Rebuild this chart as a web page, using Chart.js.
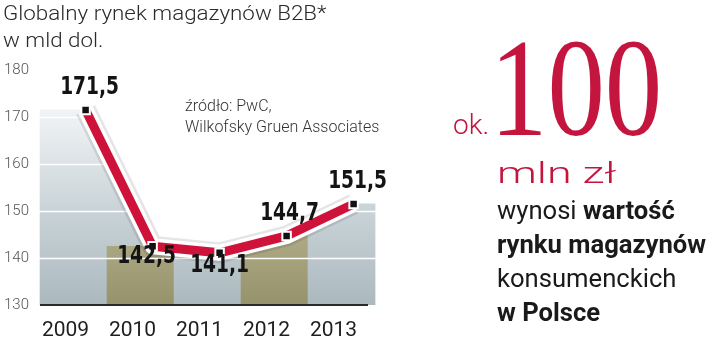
<!DOCTYPE html>
<html><head><meta charset="utf-8">
<script src="https://cdn.jsdelivr.net/npm/chart.js@4.4.0/dist/chart.umd.min.js"></script>
<style>
html,body{margin:0;padding:0;background:#fff;width:720px;height:356px;overflow:hidden;}
#wrap{position:relative;width:720px;height:356px;}
#c{position:absolute;left:0;top:0;}
.t{position:absolute;white-space:nowrap;}
</style></head><body>
<div id="wrap">
<canvas id="c" width="720" height="356"></canvas>
<div class="t" style="left:3px;top:0px;font:300 21px Roboto;color:#2a2a2a;line-height:27px;transform:scaleX(1.065);transform-origin:0 0;">Globalny rynek magazynów B2B*<br>w mld dol.</div>
<div class="t" style="left:185px;top:95px;font:300 16px Roboto;color:#333;line-height:21px;">źródło: PwC,<br>Wilkofsky Gruen Associates</div>
<div class="t" style="left:453px;top:111px;font:300 28px Roboto;color:#c4153f;line-height:1;">ok.</div>
<div class="t" style="left:490px;top:18px;font:400 140px 'Liberation Serif';color:#c4153f;line-height:1;transform:scaleX(0.82);transform-origin:0 0;">100</div>
<div class="t" style="left:497px;top:159px;font:300 29px Roboto;color:#c4153f;line-height:1;transform:scaleX(1.55);transform-origin:0 0;">mln zł</div>
<div class="t" style="left:497px;top:194px;font:400 25px Roboto;color:#1a1a1a;line-height:34px;transform:scaleX(1.025);transform-origin:0 0;">wynosi <b>wartość</b><br><b>rynku magazynów</b><br>konsumenckich<br><b>w Polsce</b></div>
</div>
<script>
const categories = ['2009', '2010', '2011', '2012', '2013'];
const values = [171.5, 142.5, 141.1, 144.7, 151.5];
const yTicks = [130, 140, 150, 160, 170, 180];

const points = values.map((v, i) => ({x: i, y: v}));
const labelPlacement = [
  {dx: 4, dy: -22}, {dx: -6, dy: 10}, {dx: 0, dy: 13}, {dx: 3, dy: -22}, {dx: 4, dy: -22}
];

function vgrad(context, stops) {
  const chart = context.chart;
  const ca = chart.chartArea;
  if (!ca) return stops[0][1];
  const g = chart.ctx.createLinearGradient(0, ca.bottom, 0, ca.top);
  stops.forEach(([o, c]) => g.addColorStop(o, c));
  return g;
}
const grayStops = [[0, '#abb9bf'], [0.4, '#c9d3d7'], [0.75, '#eaeef0'], [1, '#ffffff']];
const khakiStops = [[0, '#96926a'], [0.3, '#aeaa86'], [1, '#e4e1cf']];

const gridPlugin = {
  id: 'whiteGrid',
  afterDatasetDraw(chart, args) {
    if (chart.data.datasets[args.index].label !== 'mask') return;
    const {ctx, chartArea, scales: {y}} = chart;
    ctx.save();
    ctx.strokeStyle = '#ffffff';
    ctx.lineWidth = 1.5;
    yTicks.forEach(t => {
      if (t === yTicks[0] || t === yTicks[yTicks.length - 1]) return;
      const py = Math.round(y.getPixelForValue(t)) + 0.5;
      ctx.beginPath();
      ctx.moveTo(chartArea.left, py);
      ctx.lineTo(chartArea.right + 10, py);
      ctx.stroke();
    });
    ctx.restore();
  }
};

const labelPlugin = {
  id: 'valueLabels',
  afterDatasetsDraw(chart) {
    const idx = chart.data.datasets.findIndex(d => d.label === 'line');
    const meta = chart.getDatasetMeta(idx);
    const ctx = chart.ctx;
    ctx.save();
    ctx.font = 'bold 22px "DejaVu Sans Condensed", "DejaVu Sans"';
    ctx.fillStyle = '#141414';
    ctx.textAlign = 'center';
    ctx.textBaseline = 'middle';
    meta.data.forEach((el, i) => {
      const p = labelPlacement[i];
      ctx.save();
      ctx.translate(el.x + p.dx, el.y + p.dy);
      ctx.scale(0.94, 1.1);
      ctx.fillText(values[i].toFixed(1).replace('.', ','), 0, 0);
      ctx.restore();
    });
    ctx.restore();
  }
};

const baselinePlugin = {
  id: 'baseline',
  afterDatasetsDraw(chart) {
    const {ctx, chartArea} = chart;
    ctx.save();
    ctx.strokeStyle = '#2a2a2a';
    ctx.lineWidth = 2;
    ctx.beginPath();
    ctx.moveTo(chartArea.left + 8, chartArea.bottom);
    ctx.lineTo(chartArea.right + 1, chartArea.bottom);
    ctx.stroke();
    ctx.restore();
  }
};

new Chart(document.getElementById('c'), {
  data: {
    labels: categories,
    datasets: [
      {type: 'line', label: 'line', data: points, xAxisID: 'xl', borderColor: '#cf1239', borderWidth: 9,
       pointStyle: 'rect', pointRadius: 6, pointBackgroundColor: '#111', pointBorderColor: '#fff', pointBorderWidth: 2,
       fill: false, order: 1},
      {type: 'line', label: 'halo', data: points, xAxisID: 'xl', borderColor: '#ffffff', borderWidth: 16,
       borderJoinStyle: 'round', pointRadius: 0, fill: false, order: 2},
      {type: 'line', label: 'shadow', data: points, xAxisID: 'xl', borderColor: 'rgba(0,0,0,0.10)', borderWidth: 21,
       borderJoinStyle: 'round', pointRadius: 0, fill: false, order: 3},
      {type: 'line', label: 'mask', data: points, xAxisID: 'xl', borderWidth: 0, pointRadius: 0,
       fill: 'end', backgroundColor: '#ffffff', order: 4},
      {type: 'bar', label: 'bands', data: points, xAxisID: 'xb', grouped: false, barPercentage: 1, categoryPercentage: 1,
       backgroundColor: (c) => vgrad(c, c.dataIndex % 2 === 1 ? khakiStops : grayStops),
       borderWidth: 0, clip: {left: 0, top: 0, right: 12, bottom: 0}, order: 5},
      {type: 'line', label: 'area', data: points, xAxisID: 'xl', borderWidth: 0, pointRadius: 0,
       fill: 'start', backgroundColor: (c) => vgrad(c, grayStops), order: 6}
    ]
  },
  options: {
    responsive: false,
    animation: false,
    events: [],
    layout: {padding: {left: 4, right: 353, top: 70, bottom: 0}},
    plugins: {legend: {display: false}, tooltip: {enabled: false}},
    scales: {
      x: {type: 'category', offset: true, grid: {display: false}, border: {display: false},
          ticks: {font: {family: 'Roboto', size: 21}, color: '#1e1e1e', padding: 5},
          afterFit: (s) => { s.height = 51; }},
      xl: {type: 'linear', display: false, offset: false, min: -0.8, max: 4.2},
      xb: {type: 'linear', display: false, offset: false, grid: {offset: false}, min: -0.62, max: 4.38,
           afterBuildTicks: (s) => { s.ticks = categories.map((_, i) => ({value: i})); }},
      y: {type: 'linear', min: yTicks[0], max: yTicks[yTicks.length - 1],
          afterBuildTicks: (s) => { s.ticks = yTicks.map(v => ({value: v})); },
          grid: {display: false}, border: {display: false},
          ticks: {font: {family: 'Roboto', size: 15, weight: 300}, color: '#555', crossAlign: 'far', padding: 0},
          afterFit: (s) => { s.width = 28; }}
    }
  },
  plugins: [gridPlugin, labelPlugin, baselinePlugin]
});
</script>
</body></html>
